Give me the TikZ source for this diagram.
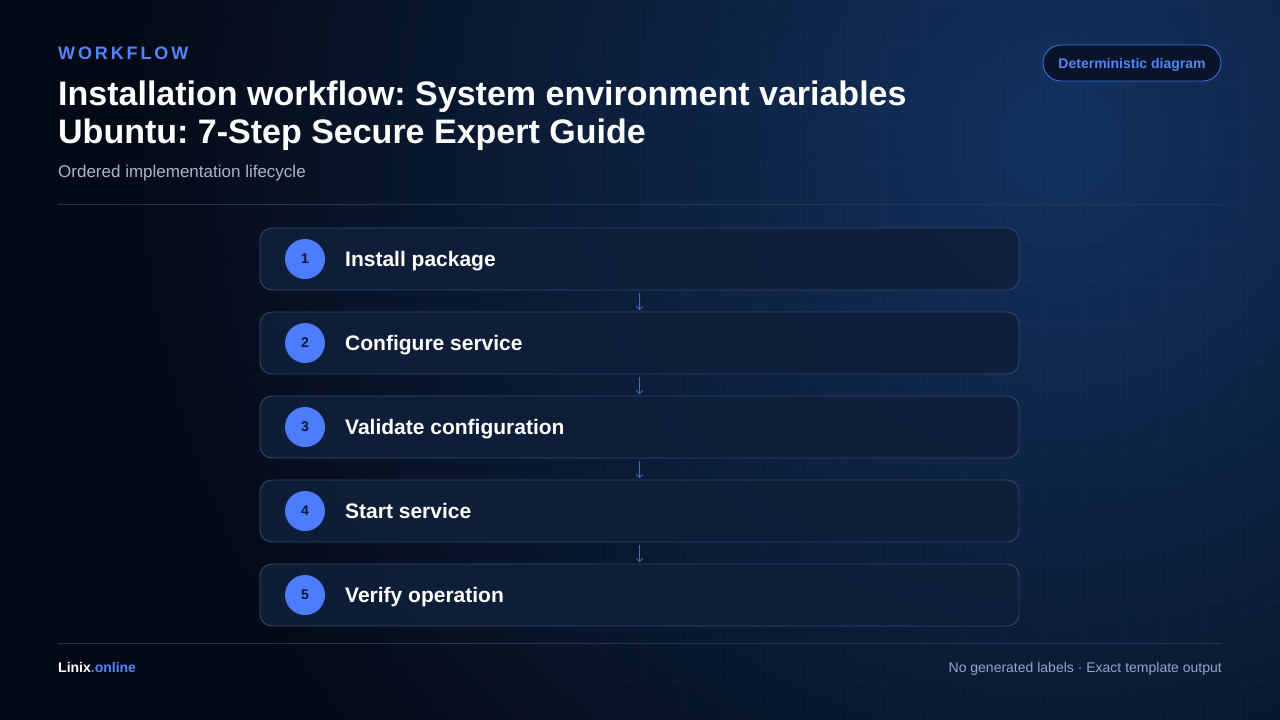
\documentclass[tikz,border=0pt]{standalone}
\usepackage{fontspec}
\setmainfont{Liberation Sans}
\frenchspacing
\usetikzlibrary{arrows.meta}
\definecolor{bgdark}{HTML}{040A15}
\definecolor{bgglow}{HTML}{133260}
\definecolor{boxfill}{HTML}{0F1F3A}
\definecolor{boxline}{HTML}{33476A}
\definecolor{accent}{HTML}{4D7CFF}
\definecolor{accenttxt}{HTML}{5585F5}
\definecolor{arrowcol}{HTML}{4468D0}
\definecolor{numtxt}{HTML}{0A1530}
\definecolor{subtxt}{HTML}{A9B5C8}
\definecolor{rulecol}{HTML}{263650}
\definecolor{badgefill}{HTML}{08142A}
\definecolor{badgeline}{HTML}{3B6FE0}
\tikzset{
  stepbox/.style={draw=boxline, line width=0.9pt, fill=boxfill, fill opacity=0.92, rounded corners=12pt,
    minimum width=759pt, minimum height=62pt, inner sep=0pt},
  stepnum/.style={circle, fill=accent, minimum size=40pt, inner sep=0pt,
    font=\fontsize{14}{16}\selectfont\bfseries, text=numtxt},
  steplabel/.style={anchor=base west, inner sep=0pt, text=white, font=\fontsize{21}{24}\selectfont\bfseries},
  flowarrow/.style={draw=arrowcol, line width=0.9pt, -{Straight Barb[length=3pt,width=6pt]},
    shorten <=3pt, shorten >=1.5pt},
  plain/.style={inner sep=0pt},
}
\begin{document}
\begin{tikzpicture}[x=1pt,y=-1pt]
\useasboundingbox (0,0) rectangle (1280,720);
% background
\fill[bgdark] (0,0) rectangle (1280,720);
\begin{scope}
\clip (0,0) rectangle (1280,720);
\shade[inner color=bgglow, outer color=bgdark] (1060,140) circle (950);
\draw[white, opacity=0.012, line width=0.6pt, step=40pt] (600,0) grid (1280,720);
\end{scope}
% header
\node[plain, anchor=base west, text=accenttxt, font=\fontsize{18}{20}\selectfont\bfseries\addfontfeature{LetterSpace=16}] (kicker) at (58,59) {WORKFLOW};
\node[plain, anchor=base west, text=white, font=\fontsize{34}{38}\selectfont\bfseries] (title1) at (58,105) {Installation workflow: System environment variables};
\node[plain, anchor=base west, text=white, font=\fontsize{34}{38}\selectfont\bfseries] (title2) at (58,143) {Ubuntu: 7-Step Secure Expert Guide};
\node[plain, anchor=base west, text=subtxt, font=\fontsize{17}{19}\selectfont] (subtitle) at (58,177) {Ordered implementation lifecycle};
% badge
\node[draw=badgeline, line width=0.9pt, fill=badgefill, rounded corners=18pt, minimum width=178pt, minimum height=36pt,
  inner sep=0pt, text=accenttxt, font=\fontsize{14}{16}\selectfont\bfseries] (badge) at (1132,63) {};
\node[plain, anchor=base, text=accenttxt, font=\fontsize{14}{16}\selectfont\bfseries] (badgetxt) at (1132,68) {Deterministic diagram};
% rules
\coordinate (rtl) at (58,204); \coordinate (rtr) at (1222,204);
\draw[rulecol, line width=0.8pt] (rtl) -- (rtr);
\coordinate (rbl) at (58,643); \coordinate (rbr) at (1222,643);
\draw[rulecol, line width=0.8pt] (rbl) -- (rbr);
% steps
\foreach \i/\y/\t in {1/259/Install package, 2/343/Configure service, 3/427/Validate configuration, 4/511/Start service, 5/595/Verify operation}{
  \node[stepbox] (b\i) at (639.5,\y) {};
  \node[stepnum] (c\i) at (305,\y) {\i};
  \node[steplabel] (t\i) at (345,\y+7.5) {\t};
}
\foreach \a/\b in {1/2,2/3,3/4,4/5}{
  \draw[flowarrow] (b\a.south) -- (b\b.north);
}
% footer
\node[plain, anchor=base west, font=\fontsize{14}{16}\selectfont\bfseries] (brand) at (58,672) {\textcolor{white}{Linix}\textcolor{accenttxt}{.online}};
\node[plain, anchor=base east, text=subtxt!90!blue, font=\fontsize{14}{16}\selectfont] (note) at (1222,672) {No generated labels · Exact template output};
\end{tikzpicture}
\end{document}
